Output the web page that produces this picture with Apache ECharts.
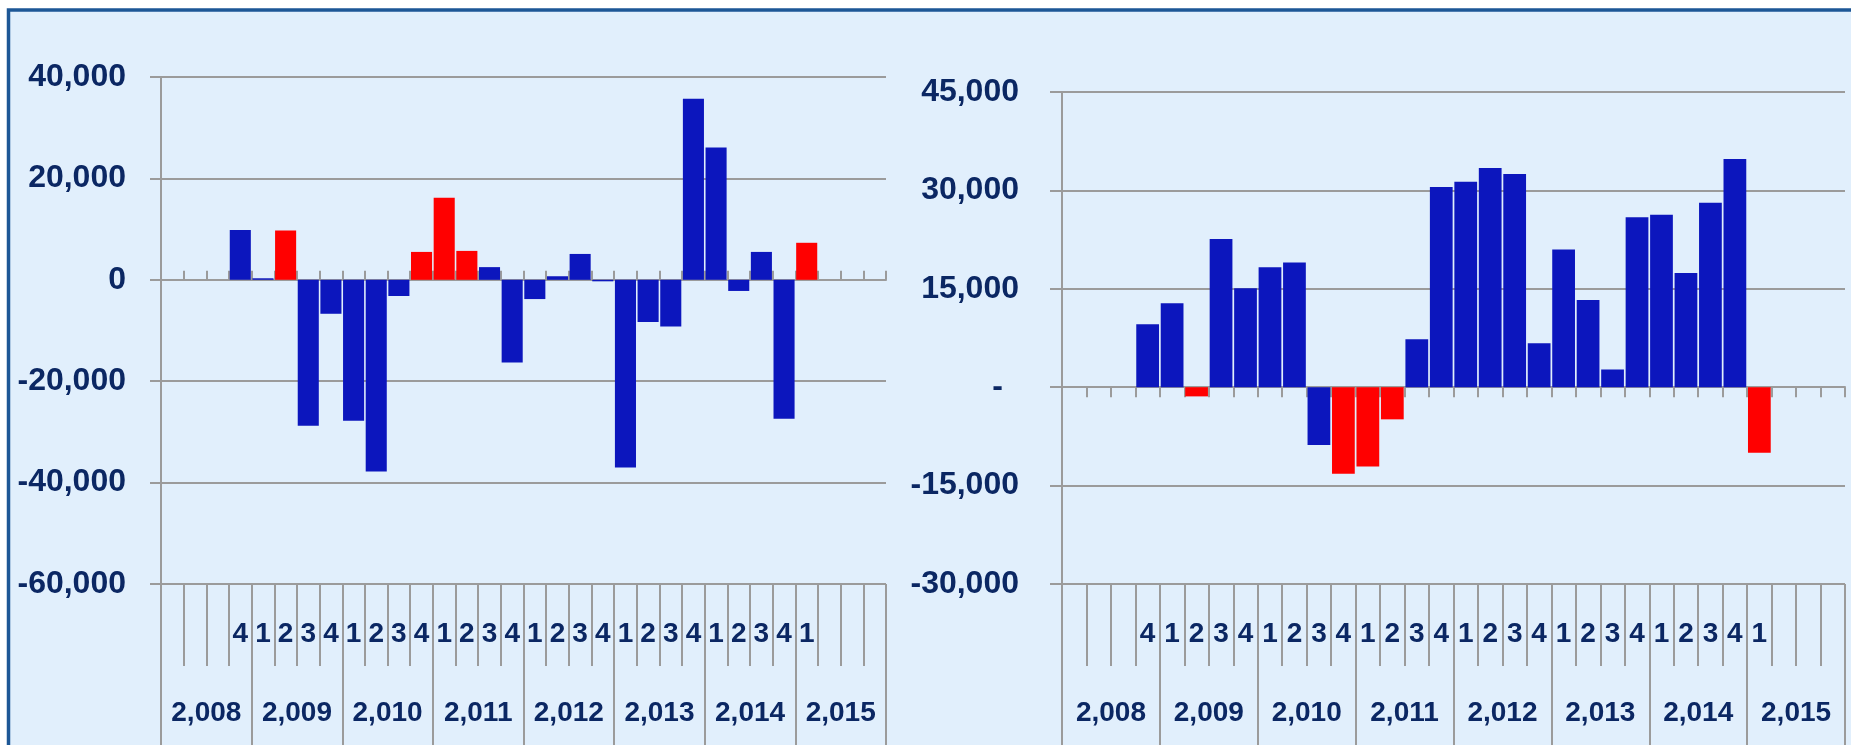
<!DOCTYPE html>
<html><head><meta charset="utf-8">
<script src="https://cdn.jsdelivr.net/npm/echarts@6/dist/echarts.min.js"></script>
<style>html,body{margin:0;padding:0;background:#fff;overflow:hidden;} #c{width:1851px;height:745px;}</style>
</head><body><div id="c"></div>
<script>
// ---------------- data ----------------
const years = [2008, 2009, 2010, 2011, 2012, 2013, 2014, 2015];
const quarters = [1, 2, 3, 4];
const quarterTickLabels = [
  '', '', '', '4',
  '1', '2', '3', '4',
  '1', '2', '3', '4',
  '1', '2', '3', '4',
  '1', '2', '3', '4',
  '1', '2', '3', '4',
  '1', '2', '3', '4',
  '1', '', '', ''
];
const leftValues = [
  null, null, null, 9800,
  300, 9700, -28800, -6700,
  -27800, -37800, -3200, 5500,
  16200, 5700, 2500, -16300,
  -3800, 700, 5100, -300,
  -37000, -8300, -9200, 35700,
  26100, -2200, 5500, -27400,
  7300, null, null, null
];
const rightValues = [
  null, null, null, 9600,
  12800, -1400, 22600, 15100,
  18300, 19000, -8800, -13200,
  -12100, -4900, 7300, 30500,
  31300, 33400, 32500, 6700,
  21000, 13300, 2700, 25900,
  26300, 17400, 28100, 34800,
  -10000, null, null, null
];
const redCategories = ['2009-2', '2010-4', '2011-1', '2011-2', '2015-1'];
const leftYTicks = [-60000, -40000, -20000, 0, 20000, 40000];
const rightYTicks = [-30000, -15000, 0, 15000, 30000, 45000];

// ---------------- styling ----------------
const FONT = "'Liberation Sans Narrow', 'Arial Narrow', 'Liberation Sans', Arial, sans-serif";
const TEXT = '#0B2763';
const GRIDC = '#9B9B9B';
const BLUE = '#0C16BD';
const RED = '#FF0000';

const categories = years.flatMap(y => quarters.map(q => y + '-' + q));
const isRed = c => redCategories.includes(c);
const fmt = v => Number(v).toLocaleString('en-US');

function build(gi, values, yTicks, rect, opts) {
  const xs = [
    { // main axis through zero, carries bars
      gridIndex: gi, type: 'category', data: categories, position: 'bottom',
      axisLine: { onZero: true, lineStyle: { color: GRIDC, width: 2 } },
      axisTick: { show: true, inside: opts.zeroTickInside, length: opts.zeroTickLen, interval: 0, lineStyle: { color: GRIDC, width: 2 } },
      axisLabel: { show: false }, splitLine: { show: false }
    },
    { // quarter labels
      gridIndex: gi, type: 'category', data: categories, position: 'bottom',
      axisLine: { show: false, onZero: false },
      axisTick: { show: true, length: 82, interval: 0, lineStyle: { color: GRIDC, width: 2 } },
      axisLabel: {
        show: true, interval: 0, margin: 50, verticalAlign: 'middle',
        formatter: (v, i) => quarterTickLabels[i],
        fontFamily: FONT, fontWeight: 'bold', fontSize: 28, color: TEXT
      },
      splitLine: { show: false }
    },
    { // year labels
      gridIndex: gi, type: 'category', data: years, position: 'bottom',
      axisLine: { show: false, onZero: false },
      axisTick: { show: true, length: 161, interval: 0, lineStyle: { color: GRIDC, width: 2 } },
      axisLabel: {
        show: true, interval: 0, margin: 129, verticalAlign: 'middle',
        formatter: v => fmt(v),
        fontFamily: FONT, fontWeight: 'bold', fontSize: 28, color: TEXT
      },
      splitLine: { show: false }
    }
  ];
  const y = {
    gridIndex: gi, type: 'value',
    min: yTicks[0], max: yTicks[yTicks.length - 1], interval: yTicks[1] - yTicks[0],
    axisLine: { show: true, onZero: false, lineStyle: { color: GRIDC, width: 2 } },
    axisTick: { show: true, length: opts.yTickLen, lineStyle: { color: GRIDC, width: 2 } },
    splitLine: { show: true, lineStyle: { color: GRIDC, width: 2 } },
    axisLabel: {
      margin: opts.labelMargin, fontFamily: FONT, fontWeight: 'bold', fontSize: 32, color: TEXT,
      formatter: v => (v === 0 && opts.zeroDash) ? '{z|-}' : fmt(v),
      rich: { z: { fontFamily: FONT, fontWeight: 'bold', fontSize: 32, color: TEXT, padding: [0, 16, 0, 0] } }
    }
  };
  const grid = Object.assign({ outerBoundsMode: 'none', containLabel: false }, rect);
  return { grid, xs, y, values };
}

const L = build(0, leftValues, leftYTicks, { left: 161, top: 77, width: 725, height: 507 },
  { zeroTickInside: true, zeroTickLen: 9, yTickLen: 11, labelMargin: 35, zeroDash: false });
const R = build(1, rightValues, rightYTicks, { left: 1062, top: 92, width: 783, height: 492 },
  { zeroTickInside: false, zeroTickLen: 10, yTickLen: 12, labelMargin: 43, zeroDash: true });

function barSeries(values, xIndex, yIndex) {
  const common = { type: 'bar', xAxisIndex: xIndex, yAxisIndex: yIndex, barCategoryGap: '7%', barGap: '-100%', animation: false };
  return [
    Object.assign({}, common, { name: 'b' + xIndex, itemStyle: { color: BLUE },
      data: values.map((v, i) => isRed(categories[i]) ? null : v) }),
    Object.assign({}, common, { name: 'r' + xIndex, itemStyle: { color: RED },
      data: values.map((v, i) => isRed(categories[i]) ? v : null) })
  ];
}

const option = {
  animation: false,
  backgroundColor: '#ffffff',
  graphic: [{
    type: 'rect', z: -100, silent: true,
    shape: { x: 8.5, y: 10, width: 1900, height: 800 },
    style: { fill: '#E1EFFC', stroke: '#1D5796', lineWidth: 3.5 }
  }],
  grid: [L.grid, R.grid],
  xAxis: [...L.xs, ...R.xs],
  yAxis: [L.y, R.y],
  series: [...barSeries(leftValues, 0, 0), ...barSeries(rightValues, 3, 1)]
};

const chart = echarts.init(document.getElementById('c'), null, { renderer: 'canvas' });
chart.setOption(option);
</script>
</body></html>
